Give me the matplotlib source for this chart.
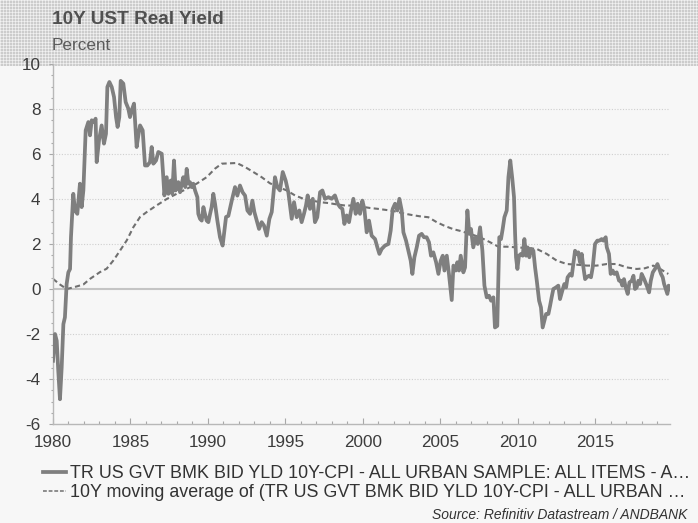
import numpy as np
import matplotlib
matplotlib.use("Agg")
import matplotlib.pyplot as plt
from matplotlib.ticker import MultipleLocator

plt.rcParams['font.family'] = ['Liberation Sans', 'DejaVu Sans']

# ---- data ----
real_years = [
    1980.0, 1980.13, 1980.24, 1980.34, 1980.45, 1980.56, 1980.67, 1980.77, 1980.88, 1980.99,
    1981.10, 1981.16, 1981.31, 1981.42, 1981.57, 1981.74, 1981.85, 1981.96, 1982.11, 1982.28,
    1982.39, 1982.50, 1982.65, 1982.75, 1982.82, 1982.97, 1983.14, 1983.29, 1983.42, 1983.51,
    1983.64, 1983.79, 1983.94, 1984.07, 1984.17, 1984.28, 1984.37, 1984.54, 1984.69, 1984.86,
    1984.97, 1985.08, 1985.23, 1985.40, 1985.51, 1985.62, 1985.79, 1985.94, 1986.09, 1986.26,
    1986.37, 1986.48, 1986.65, 1986.80, 1987.02, 1987.12, 1987.19, 1987.34, 1987.45, 1987.60,
    1987.70, 1987.81, 1987.92, 1988.09, 1988.20, 1988.31, 1988.41, 1988.54, 1988.63, 1988.74,
    1988.84, 1988.95, 1989.06, 1989.17, 1989.32, 1989.38, 1989.49, 1989.60, 1989.71, 1989.81,
    1989.92, 1990.03, 1990.14, 1990.24, 1990.35, 1990.46, 1990.61, 1990.78, 1990.95, 1991.17,
    1991.32, 1991.54, 1991.75, 1991.90, 1992.07, 1992.24, 1992.40, 1992.55, 1992.72, 1992.87,
    1993.00, 1993.15, 1993.30, 1993.47, 1993.62, 1993.80, 1993.97, 1994.12, 1994.33, 1994.48,
    1994.65, 1994.83, 1995.02, 1995.19, 1995.41, 1995.56, 1995.73, 1995.90, 1996.05, 1996.20,
    1996.33, 1996.44, 1996.59, 1996.77, 1996.91, 1997.06, 1997.24, 1997.39, 1997.56, 1997.78,
    1997.99, 1998.20, 1998.38, 1998.53, 1998.68, 1998.81, 1998.96, 1999.11, 1999.24, 1999.39,
    1999.54, 1999.67, 1999.82, 1999.97, 2000.10, 2000.25, 2000.40, 2000.57, 2000.79, 2000.94,
    2001.07, 2001.22, 2001.43, 2001.65, 2001.80, 2001.93, 2002.08, 2002.23, 2002.36, 2002.51,
    2002.62, 2002.79, 2002.94, 2003.09, 2003.20, 2003.33, 2003.48, 2003.63, 2003.80, 2003.95,
    2004.12, 2004.27, 2004.40, 2004.55, 2004.73, 2004.88, 2005.03, 2005.16, 2005.27, 2005.42,
    2005.56, 2005.74, 2005.85, 2006.00, 2006.10, 2006.21, 2006.32, 2006.49, 2006.60, 2006.75,
    2006.88, 2006.98, 2007.13, 2007.29, 2007.42, 2007.57, 2007.72, 2007.85, 2008.00, 2008.15,
    2008.28, 2008.43, 2008.53, 2008.68, 2008.81, 2008.92, 2009.03, 2009.14, 2009.29, 2009.40,
    2009.52, 2009.65, 2009.76, 2009.83, 2009.89, 2009.98, 2010.08, 2010.21, 2010.32, 2010.43,
    2010.54, 2010.64, 2010.75, 2010.86, 2011.01, 2011.12, 2011.23, 2011.38, 2011.50, 2011.61,
    2011.72, 2011.83, 2011.98, 2012.09, 2012.19, 2012.30, 2012.47, 2012.62, 2012.73, 2012.88,
    2013.01, 2013.12, 2013.22, 2013.38, 2013.49, 2013.59, 2013.70, 2013.81, 2013.91, 2014.02,
    2014.13, 2014.24, 2014.35, 2014.45, 2014.60, 2014.73, 2014.84, 2014.99, 2015.14, 2015.27,
    2015.42, 2015.53, 2015.68, 2015.75, 2015.89, 2016.00, 2016.13, 2016.24, 2016.39, 2016.54,
    2016.65, 2016.75, 2016.86, 2016.97, 2017.10, 2017.21, 2017.36, 2017.47, 2017.57, 2017.68,
    2017.79, 2017.90, 2018.00, 2018.16, 2018.33, 2018.48, 2018.59, 2018.72, 2018.86, 2019.02,
    2019.14, 2019.25, 2019.36, 2019.45, 2019.66, 2019.74, 2019.82,
]
real_yield = [
    -3.19, -2.00, -2.30, -3.64, -4.90, -3.49, -1.56, -1.26, 0.22, 0.74,
    0.89, 2.30, 4.23, 3.49, 3.34, 4.68, 3.64, 4.38, 7.05, 7.42,
    6.83, 7.50, 7.42, 7.57, 5.64, 6.61, 7.27, 6.46, 6.90, 8.98,
    9.20, 8.98, 8.53, 7.64, 7.20, 7.64, 9.25, 9.13, 8.31, 8.02,
    7.64, 7.94, 8.24, 6.31, 6.83, 7.27, 7.05, 5.49, 5.49, 5.64,
    6.31, 5.57, 5.71, 6.09, 6.01, 4.97, 4.16, 4.97, 4.23, 4.82,
    4.23, 5.71, 4.38, 4.75, 4.30, 4.68, 4.97, 4.53, 5.34, 4.68,
    4.75, 4.53, 4.68, 4.38, 4.08, 3.34, 3.12, 3.04, 3.64, 3.34,
    3.04, 2.97, 3.34, 3.64, 4.23, 3.79, 3.04, 2.30, 1.93, 3.20,
    3.25, 3.93, 4.53, 4.15, 4.60, 4.30, 4.15, 3.49, 3.34, 3.93,
    3.42, 3.04, 2.67, 2.97, 2.82, 2.37, 3.12, 3.42, 4.97, 4.53,
    4.38, 5.20, 4.82, 4.30, 3.12, 3.86, 3.19, 3.49, 2.97, 3.34,
    3.71, 4.16, 3.56, 4.01, 2.97, 3.19, 4.30, 4.38, 4.01, 4.08,
    4.01, 4.16, 3.79, 3.64, 3.56, 2.89, 3.27, 2.97, 3.49, 4.01,
    3.34, 3.79, 3.34, 3.93, 3.56, 2.52, 3.04, 2.37, 2.22, 1.85,
    1.56, 1.78, 1.93, 2.00, 2.60, 3.56, 3.79, 3.49, 4.01, 3.49,
    2.52, 2.15, 1.70, 1.26, 0.67, 1.41, 1.85, 2.37, 2.45, 2.30,
    2.30, 2.08, 1.48, 1.63, 1.19, 0.67, 1.26, 1.48, 0.82, 1.48,
    0.67, -0.49, 1.04, 0.82, 1.19, 0.82, 1.48, 0.74, 0.96, 3.49,
    2.45, 2.67, 1.85, 2.30, 2.00, 2.74, 1.70, 0.15, -0.37, -0.30,
    -0.52, -0.37, -1.71, -1.64, 2.30, 2.22, 2.67, 3.19, 3.49, 4.97,
    5.71, 4.90, 4.08, 2.45, 1.41, 0.89, 1.48, 1.56, 1.48, 2.22,
    1.48, 1.85, 1.41, 1.78, 1.70, 0.96, 0.37, -0.52, -0.82, -1.71,
    -1.41, -1.11, -1.11, -0.74, -0.37, 0.00, 0.07, 0.15, -0.45, -0.07,
    0.22, 0.07, 0.52, 0.67, 0.59, 1.11, 1.70, 1.56, 1.63, 1.19,
    1.56, 0.96, 0.44, 0.52, 0.59, 0.52, 0.96, 2.00, 2.15, 2.15,
    2.22, 2.15, 2.30, 1.85, 1.56, 0.67, 0.82, 0.67, 0.74, 0.37,
    0.37, 0.15, 0.44, 0.07, -0.22, 0.29, 0.37, 0.59, 0.00, 0.07,
    0.37, 0.22, 0.67, 0.44, 0.15, -0.15, 0.37, 0.74, 0.89, 1.11,
    0.89, 0.67, 0.52, 0.22, -0.22, 0.15, 0.00,
]

ma_years = [
    1980.0, 1980.45, 1980.88, 1981.31, 1981.96, 1982.39, 1983.03, 1983.46, 1983.90, 1984.33,
    1984.76, 1985.19, 1985.62, 1986.05, 1986.70, 1987.34, 1987.98, 1988.63, 1989.27, 1989.92,
    1990.46, 1990.89, 1991.86, 1992.40, 1992.93, 1993.47, 1994.00, 1994.55, 1995.09, 1995.62,
    1996.16, 1996.70, 1997.24, 1997.78, 1998.32, 1998.85, 1999.39, 1999.93, 2000.47, 2001.00,
    2001.54, 2002.08, 2002.62, 2003.15, 2003.69, 2004.23, 2004.77, 2005.30, 2005.84, 2006.30,
    2006.92, 2007.56, 2008.21, 2008.75, 2009.30, 2009.94, 2010.60, 2011.23, 2011.87, 2012.52,
    2013.17, 2013.81, 2014.46, 2015.10, 2015.75, 2016.39, 2017.04, 2017.68, 2018.20, 2018.75,
    2019.20, 2019.72,
]
ma_values = [
    0.45, 0.20, 0.00, 0.07, 0.20, 0.45, 0.75, 0.90, 1.27, 1.71,
    2.16, 2.75, 3.20, 3.42, 3.72, 4.00, 4.23, 4.45, 4.68, 4.97,
    5.35, 5.57, 5.60, 5.42, 5.20, 4.97, 4.70, 4.53, 4.38, 4.16,
    4.01, 3.93, 3.86, 3.82, 3.76, 3.71, 3.71, 3.66, 3.60, 3.56,
    3.51, 3.45, 3.36, 3.29, 3.23, 3.19, 2.97, 2.80, 2.66, 2.58,
    2.45, 2.30, 2.08, 1.88, 1.88, 1.85, 1.82, 1.78, 1.56, 1.26,
    1.11, 1.08, 1.04, 1.04, 1.11, 1.11, 0.96, 0.89, 0.92, 1.04,
    0.89, 0.67,
]

x_tick_years = [1980, 1985, 1990, 1995, 2000, 2005, 2010, 2015]
y_ticks = [-6, -4, -2, 0, 2, 4, 6, 8, 10]

title = "10Y UST Real Yield"
subtitle = "Percent"
label_real = "TR US GVT BMK BID YLD 10Y-CPI - ALL URBAN SAMPLE: ALL ITEMS - A\u2026"
label_ma = "10Y moving average of (TR US GVT BMK BID YLD 10Y-CPI - ALL URBAN \u2026"
source = "Source: Refinitiv Datastream / ANDBANK"

# ---- figure ----
W, H = 698, 523
fig = plt.figure(figsize=(W / 100, H / 100), dpi=100)
fig.patch.set_facecolor('#f7f7f7')

# checkered header band
hh = 66
rows = np.arange(hh)[:, None]
cols = np.arange(W)[None, :]
pat = np.full((hh, W), 0.80)
pat = np.where(rows % 3 == 0, 0.90, pat)
pat = np.where(cols % 3 == 0, np.maximum(pat, 0.90), pat)
pat = np.where((rows % 3 == 0) & (cols % 3 == 0), 0.95, pat)
rgb = np.dstack([pat, pat, pat])
fig.figimage(rgb, xo=0, yo=H - hh, origin='upper', zorder=-10)

fig.text(52 / W, 1 - 19 / H, title, fontsize=13.7, fontweight='bold',
         color='#505050', ha='left', va='center')
fig.text(52 / W, 1 - 45 / H, subtitle, fontsize=12.3, color='#5a5a5a',
         ha='left', va='center')

ax = fig.add_axes([53 / W, 1 - 424 / H, (670 - 53) / W, (424 - 64) / H])
ax.set_zorder(2)
ax.patch.set_alpha(0)
ax.set_xlim(1980, 2019.83)
ax.set_ylim(-6, 10)

for v in y_ticks:
    if v == 0:
        ax.axhline(v, color='#c4c4c4', lw=1.5, zorder=1)
    elif v > -6:
        ax.axhline(v, color='#cfcfcf', lw=0.8, ls=(0, (1, 1.5)), zorder=1)

l1, = ax.plot(real_years, real_yield, color='#7f7f7f', lw=2.7, zorder=3,
              solid_joinstyle='round')
l2, = ax.plot(ma_years, ma_values, color='#707070', lw=1.5, ls=(0, (2.5, 1.6)), zorder=2)

for s in ['top', 'right']:
    ax.spines[s].set_visible(False)
for s in ['left', 'bottom']:
    ax.spines[s].set_color('#b8b8b8')
    ax.spines[s].set_linewidth(1.0)

ax.set_xticks(x_tick_years)
ax.set_xticklabels([str(y) for y in x_tick_years])
ax.xaxis.set_minor_locator(MultipleLocator(1))
ax.set_yticks(y_ticks)
ax.set_yticklabels([str(v) for v in y_ticks])
ax.yaxis.set_minor_locator(MultipleLocator(0.5))

ax.tick_params(axis='x', which='major', direction='in', length=4, width=0.8,
               color='#a8a8a8', labelsize=12.3, labelcolor='#3c3c3c', pad=8)
ax.tick_params(axis='x', which='minor', direction='in', length=2, width=0.8,
               color='#a8a8a8')
ax.tick_params(axis='y', which='major', direction='out', length=3, width=0.8,
               color='#a8a8a8', labelsize=12.3, labelcolor='#3c3c3c', pad=6)
ax.tick_params(axis='y', which='minor', direction='out', length=1.5, width=0.8,
               color='#a8a8a8')

h1 = plt.Line2D([], [], color='#7f7f7f', lw=2.7)
h2 = plt.Line2D([], [], color='#707070', lw=1.1, ls=(0, (2.5, 1.2)))
leg = fig.legend([h1, h2], [label_real, label_ma], loc='upper left',
                 bbox_to_anchor=(43 / W, 1 - 465 / H), frameon=False,
                 fontsize=12.9, handlelength=1.3, handletextpad=0.22,
                 labelspacing=0.12, borderpad=0, borderaxespad=0,
                 labelcolor='#333333')

fig.text(687 / W, 1 - 515 / H, source, fontsize=10, style='italic',
         color='#333333', ha='right', va='center')

fig.savefig('out.png', dpi=100, facecolor=fig.get_facecolor())
